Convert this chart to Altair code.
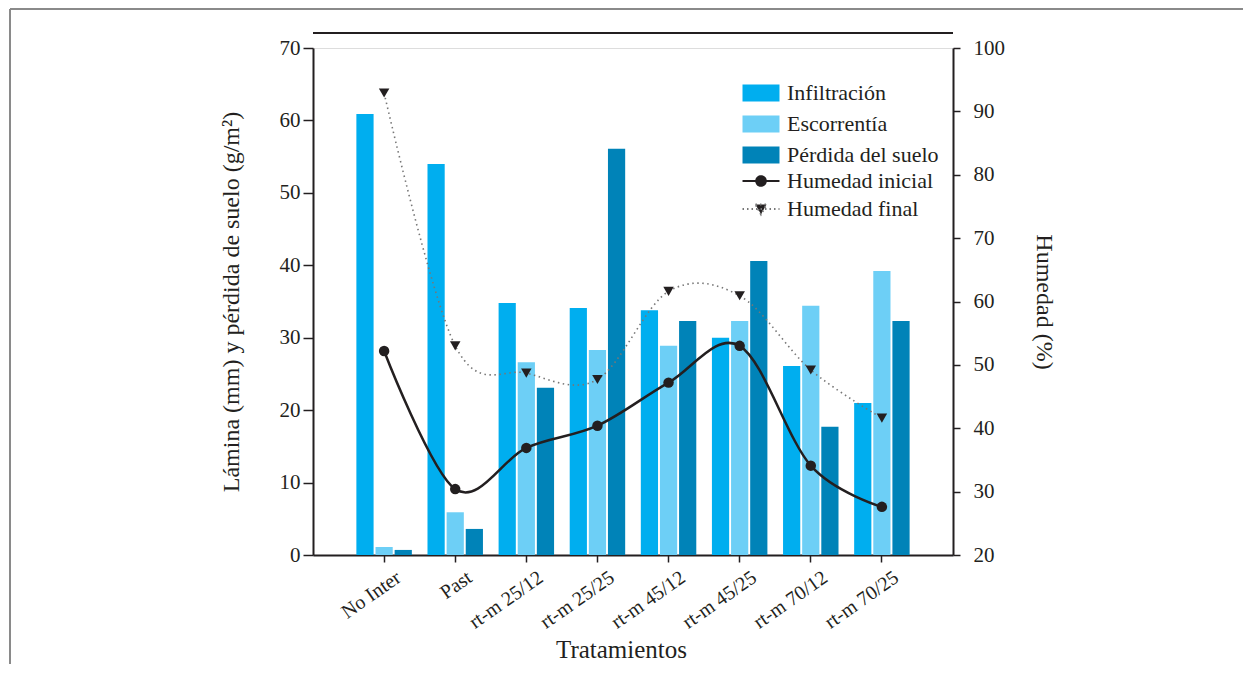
import altair as alt
import pandas as pd

categorias = ["No Inter", "Past", "rt-m 25/12", "rt-m 25/25", "rt-m 45/12",
              "rt-m 45/25", "rt-m 70/12", "rt-m 70/25"]
infiltracion = [60.9, 54.0, 34.8, 34.1, 33.8, 30.0, 26.1, 21.0]
escorrentia = [1.1, 5.9, 26.6, 28.3, 28.9, 32.3, 34.4, 39.2]
perdida = [0.7, 3.6, 23.1, 56.1, 32.3, 40.6, 17.7, 32.3]
humedad_inicial = [52.2, 30.4, 36.9, 40.4, 47.2, 53.0, 34.1, 27.6]
humedad_final = [92.9, 53.0, 48.7, 47.7, 61.6, 60.9, 49.2, 41.6]

bar_series = ["Infiltración", "Escorrentía", "Pérdida del suelo"]
bar_colors = ["#00aeef", "#6dcff6", "#0083b8"]
line_series = ["Humedad inicial", "Humedad final"]

FONT = "Liberation Serif"
TXT = "#231f20"

rows = []
for name, vals in zip(bar_series, [infiltracion, escorrentia, perdida]):
    for c, v in zip(categorias, vals):
        rows.append({"cat": c, "serie": name, "valor": v})
bars_df = pd.DataFrame(rows)

lrows = []
for name, vals in zip(line_series, [humedad_inicial, humedad_final]):
    for c, v in zip(categorias, vals):
        lrows.append({"cat": c, "serie": name, "hum": v})
lines_df = pd.DataFrame(lrows)

W, H = 640, 507

xscale = alt.Scale(domain=categorias, paddingInner=0.22, paddingOuter=0.61)
xaxis = alt.Axis(labelAngle=-35, labelAlign="right", labelBaseline="top",
                 labelFontSize=20, labelFont=FONT, labelColor=TXT, labelPadding=5,
                 labelOffset=9,
                 tickSize=7, tickWidth=1.5, tickColor=TXT, domainColor=TXT,
                 domainWidth=2, title="Tratamientos", titleFontSize=25,
                 titleFont=FONT, titleColor=TXT, titleFontWeight="normal",
                 titlePadding=5, titleX=308)

LEG_SIZE = 342  # sqrt = 18.5 px; paths span [-2, 2] -> 37 px wide

bars = alt.Chart(bars_df).mark_bar().encode(
    x=alt.X("cat:N", scale=xscale, axis=xaxis, sort=categorias),
    xOffset=alt.XOffset("serie:N", sort=bar_series,
                        scale=alt.Scale(domain=bar_series, paddingInner=0.1, paddingOuter=0)),
    y=alt.Y("valor:Q", scale=alt.Scale(domain=[0, 70], nice=False),
            axis=alt.Axis(values=list(range(0, 71, 10)), orient="left",
                          tickSize=10, tickWidth=1.5, tickColor=TXT,
                          domainColor=TXT, domainWidth=2, grid=False,
                          labelFontSize=21, labelFont=FONT, labelColor=TXT,
                          labelPadding=3,
                          title="Lámina (mm) y pérdida de suelo (g/m²)",
                          titleFontSize=24, titleFont=FONT, titleColor=TXT,
                          titleFontWeight="normal", titlePadding=36)),
    color=alt.Color("serie:N", sort=bar_series,
                    scale=alt.Scale(domain=bar_series, range=bar_colors),
                    legend=alt.Legend(orient="none", legendX=437, legendY=34,
                                      title=None,
                                      symbolType="M-2,-0.92L2,-0.92L2,0.92L-2,0.92Z",
                                      symbolSize=LEG_SIZE, symbolStrokeWidth=0,
                                      symbolOpacity=1,
                                      labelFontSize=22, labelFont=FONT,
                                      labelColor=TXT, labelOffset=15,
                                      rowPadding=9, padding=0)),
)

yright = alt.Scale(domain=[20, 100], nice=False)
yright_axis = alt.Axis(values=list(range(20, 101, 10)), orient="right",
                       tickSize=7, tickWidth=1.5, tickColor=TXT, domainColor=TXT,
                       domainWidth=2, grid=False, labelFontSize=21, labelFont=FONT,
                       labelColor=TXT, labelPadding=13, title="Humedad (%)",
                       titleFontSize=24, titleFont=FONT, titleColor=TXT,
                       titleFontWeight="normal", titlePadding=27)

base_l = alt.Chart(lines_df).encode(
    x=alt.X("cat:N", scale=xscale, sort=categorias),
    y=alt.Y("hum:Q", scale=yright, axis=yright_axis),
)

line_ini = base_l.transform_filter(alt.datum.serie == "Humedad inicial").mark_line(
    interpolate="cardinal", color=TXT, strokeWidth=2.5)
line_fin = base_l.transform_filter(alt.datum.serie == "Humedad final").mark_line(
    interpolate="cardinal", color="#777777", strokeWidth=1.6, strokeDash=[1.5, 3.5])
pts_ini = base_l.transform_filter(alt.datum.serie == "Humedad inicial").mark_point(
    shape="circle", filled=True, color=TXT, size=110, opacity=1)
pts_fin = base_l.transform_filter(alt.datum.serie == "Humedad final").mark_point(
    shape="triangle-down", filled=True, color=TXT, size=110, opacity=1)

leg = alt.Legend(orient="none", legendX=437, legendY=122, title=None,
                 symbolSize=LEG_SIZE, symbolStrokeWidth=2, symbolFillColor=TXT,
                 labelFontSize=22, labelFont=FONT, labelColor=TXT,
                 labelOffset=15, rowPadding=6, padding=0)
path_ini = "M-2,0L2,0M0.52,0A0.52,0.52,0,1,1,-0.52,0A0.52,0.52,0,1,1,0.52,0Z"
path_fin = "M-2,0L2,0M-0.6,-0.5L0.6,-0.5L0,0.58Z"
legend_pts = base_l.mark_point(filled=True, fill=TXT, opacity=0, size=50).encode(
    shape=alt.Shape("serie:N", sort=line_series,
                    scale=alt.Scale(domain=line_series, range=[path_ini, path_fin]),
                    legend=leg),
    stroke=alt.Stroke("serie:N", sort=line_series,
                      scale=alt.Scale(domain=line_series, range=[TXT, "#777777"]),
                      legend=leg),
    strokeDash=alt.StrokeDash("serie:N", sort=line_series,
                              scale=alt.Scale(domain=line_series, range=[[1, 0], [1.5, 3]]),
                              legend=leg),
)

deco_df = pd.DataFrame({"k": [0]})
top_line = alt.Chart(deco_df).mark_rule(color=TXT, strokeWidth=2).encode(
    x=alt.value(0), x2=alt.value(W), y=alt.value(-15))
frame_left = alt.Chart(deco_df).mark_rule(color="#8a8a8a", strokeWidth=2).encode(
    x=alt.value(-303), y=alt.value(-39), y2=alt.value(640))
frame_top = alt.Chart(deco_df).mark_rule(color="#8a8a8a", strokeWidth=2).encode(
    x=alt.value(-303), x2=alt.value(940), y=alt.value(-39))

lines_layer = alt.layer(legend_pts, line_fin, line_ini, pts_fin, pts_ini)

chart = alt.layer(bars, lines_layer, top_line, frame_left, frame_top).resolve_scale(
    y="independent"
).properties(
    width=W, height=H,
    autosize=alt.AutoSizeParams(type="none"),
    padding={"left": 305, "top": 40, "right": 290, "bottom": 109},
).configure_view(strokeOpacity=0).configure(background="white")

chart.save("out.html", embed_options={"renderer": "svg", "actions": False})
